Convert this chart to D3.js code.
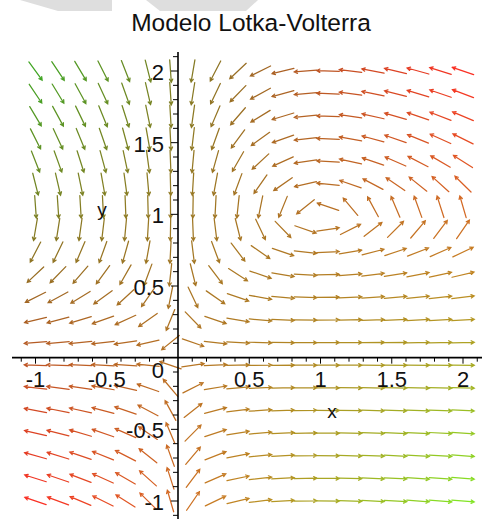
<!DOCTYPE html>
<html>
<head>
<meta charset="utf-8">
<script src="https://cdn.jsdelivr.net/npm/d3@7/dist/d3.min.js"></script>
<style>
  html, body { margin: 0; padding: 0; background: #ffffff; }
  svg { display: block; }
  text { font-family: "Liberation Sans", Arial, sans-serif; fill: #111; }
</style>
</head>
<body>
<svg id="chart" width="482" height="519"></svg>
<script>
// Lotka-Volterra system: dx/dt = a*x - b*x*y, dy/dt = c*(d*x*y - y)
const modelA = 1;
const modelB = 1;
const modelC = 0.34;
const modelD = 1;

// direction grid (20 x 20 arrows over [-1, 2] x [-1, 2])
const gridCount = 20;
const gridExtent = [-1, 2];

const titleText = "Modelo Lotka-Volterra";
const xTickValues = [-1, -0.5, 0.5, 1, 1.5, 2];
const xTickLabels = ["-1", "-0.5", "0.5", "1", "1.5", "2"];
const yTickValues = [-1, -0.5, 0.5, 1, 1.5, 2];
const yTickLabels = ["-1", "-0.5", "0.5", "1", "1.5", "2"];
const originLabel = "0";
const axisNames = ["x", "y"];

const svg = d3.select("#chart");

const x = d3.scaleLinear().domain([-1, 2]).range([35.5, 463]);
const y = d3.scaleLinear().domain([-1, 2]).range([501, 71]);

// light grey banner shapes along the top edge
const banner = svg.append("g").attr("fill", "#dedede");
banner.append("path").attr("d", "M20,0 L112,0 L112,11 L58,11 Z");
banner.append("path").attr("d", "M146,0 L258,0 L246,11 L160,11 Z");

svg.append("text")
  .attr("x", 251).attr("y", 31)
  .attr("text-anchor", "middle")
  .attr("font-size", 24.5)
  .text(titleText);

// field
const field = (px, py) => [
  modelA * px - modelB * px * py,
  modelC * (modelD * px * py - py)
];

// arrow colour from the field components
const clamp = v => Math.max(0, Math.min(255, v));
const arrowColor = (u, v) => {
  const vr = v / modelC;
  return d3.rgb(
    clamp(182 - 6 * u + 28 * vr),
    clamp(114 + 27 * u - 6 * vr),
    36
  ).formatHex();
};

const gridVals = d3.range(gridCount).map(i =>
  gridExtent[0] + (gridExtent[1] - gridExtent[0]) * i / (gridCount - 1));

const arrowLen = 22.5;
const headLen = 3.5;
const headAng = 0.5;

const arrows = [];
gridVals.forEach(gx => gridVals.forEach(gy => {
  const [u, v] = field(gx, gy);
  arrows.push({ gx, gy, u, v });
}));

const gArrows = svg.append("g")
  .attr("fill", "none")
  .attr("stroke-width", 1.25)
  .attr("stroke-linecap", "round");

arrows.forEach(a => {
  const cx = x(a.gx), cy = y(a.gy);
  // direction in screen space
  let dx = x(a.gx + a.u) - x(a.gx);
  let dy = y(a.gy + a.v) - y(a.gy);
  const m = Math.hypot(dx, dy);
  if (m < 1e-9) return;
  dx /= m; dy /= m;
  const x0 = cx - dx * arrowLen / 2, y0 = cy - dy * arrowLen / 2;
  const x1 = cx + dx * arrowLen / 2, y1 = cy + dy * arrowLen / 2;
  const ang = Math.atan2(dy, dx);
  const h1x = x1 - headLen * Math.cos(ang - headAng);
  const h1y = y1 - headLen * Math.sin(ang - headAng);
  const h2x = x1 - headLen * Math.cos(ang + headAng);
  const h2y = y1 - headLen * Math.sin(ang + headAng);
  gArrows.append("path")
    .attr("stroke", arrowColor(a.u, a.v))
    .attr("d", `M${x0},${y0}L${x1},${y1}M${h1x},${h1y}L${x1},${y1}L${h2x},${h2y}`);
});

// axes through the origin
const axes = svg.append("g").attr("stroke", "#000").attr("fill", "none");
axes.append("line")
  .attr("x1", 12).attr("x2", 482)
  .attr("y1", y(0)).attr("y2", y(0))
  .attr("stroke-width", 1.6);
axes.append("line")
  .attr("x1", x(0)).attr("x2", x(0))
  .attr("y1", 52).attr("y2", 519)
  .attr("stroke-width", 1.6);

const minorX = d3.range(-11, 22).map(i => i / 10);
const minorY = d3.range(-11, 22).map(i => i / 10);

minorX.forEach(t => {
  if (Math.abs(t) < 1e-9) return;
  const major = Math.abs(t * 2 - Math.round(t * 2)) < 1e-9;
  axes.append("line")
    .attr("x1", x(t)).attr("x2", x(t))
    .attr("y1", y(0)).attr("y2", y(0) + (major ? 6 : 4))
    .attr("stroke-width", 1);
});
minorY.forEach(t => {
  if (Math.abs(t) < 1e-9) return;
  const major = Math.abs(t * 2 - Math.round(t * 2)) < 1e-9;
  axes.append("line")
    .attr("x1", x(0) - (major ? 7 : 5)).attr("x2", x(0))
    .attr("y1", y(t)).attr("y2", y(t))
    .attr("stroke-width", 1);
});

const labels = svg.append("g").attr("font-size", 22);
xTickValues.forEach((t, i) => {
  labels.append("text")
    .attr("x", x(t)).attr("y", 387)
    .attr("text-anchor", "middle")
    .text(xTickLabels[i]);
});
yTickValues.forEach((t, i) => {
  labels.append("text")
    .attr("x", 164).attr("y", y(t) + 9)
    .attr("text-anchor", "end")
    .text(yTickLabels[i]);
});
labels.append("text")
  .attr("x", 164).attr("y", 378)
  .attr("text-anchor", "end")
  .text(originLabel);

svg.append("text")
  .attr("x", 332).attr("y", 418)
  .attr("text-anchor", "middle")
  .attr("font-size", 19)
  .text(axisNames[0]);
svg.append("text")
  .attr("x", 102).attr("y", 216)
  .attr("text-anchor", "middle")
  .attr("font-size", 19)
  .text(axisNames[1]);
</script>
</body>
</html>
